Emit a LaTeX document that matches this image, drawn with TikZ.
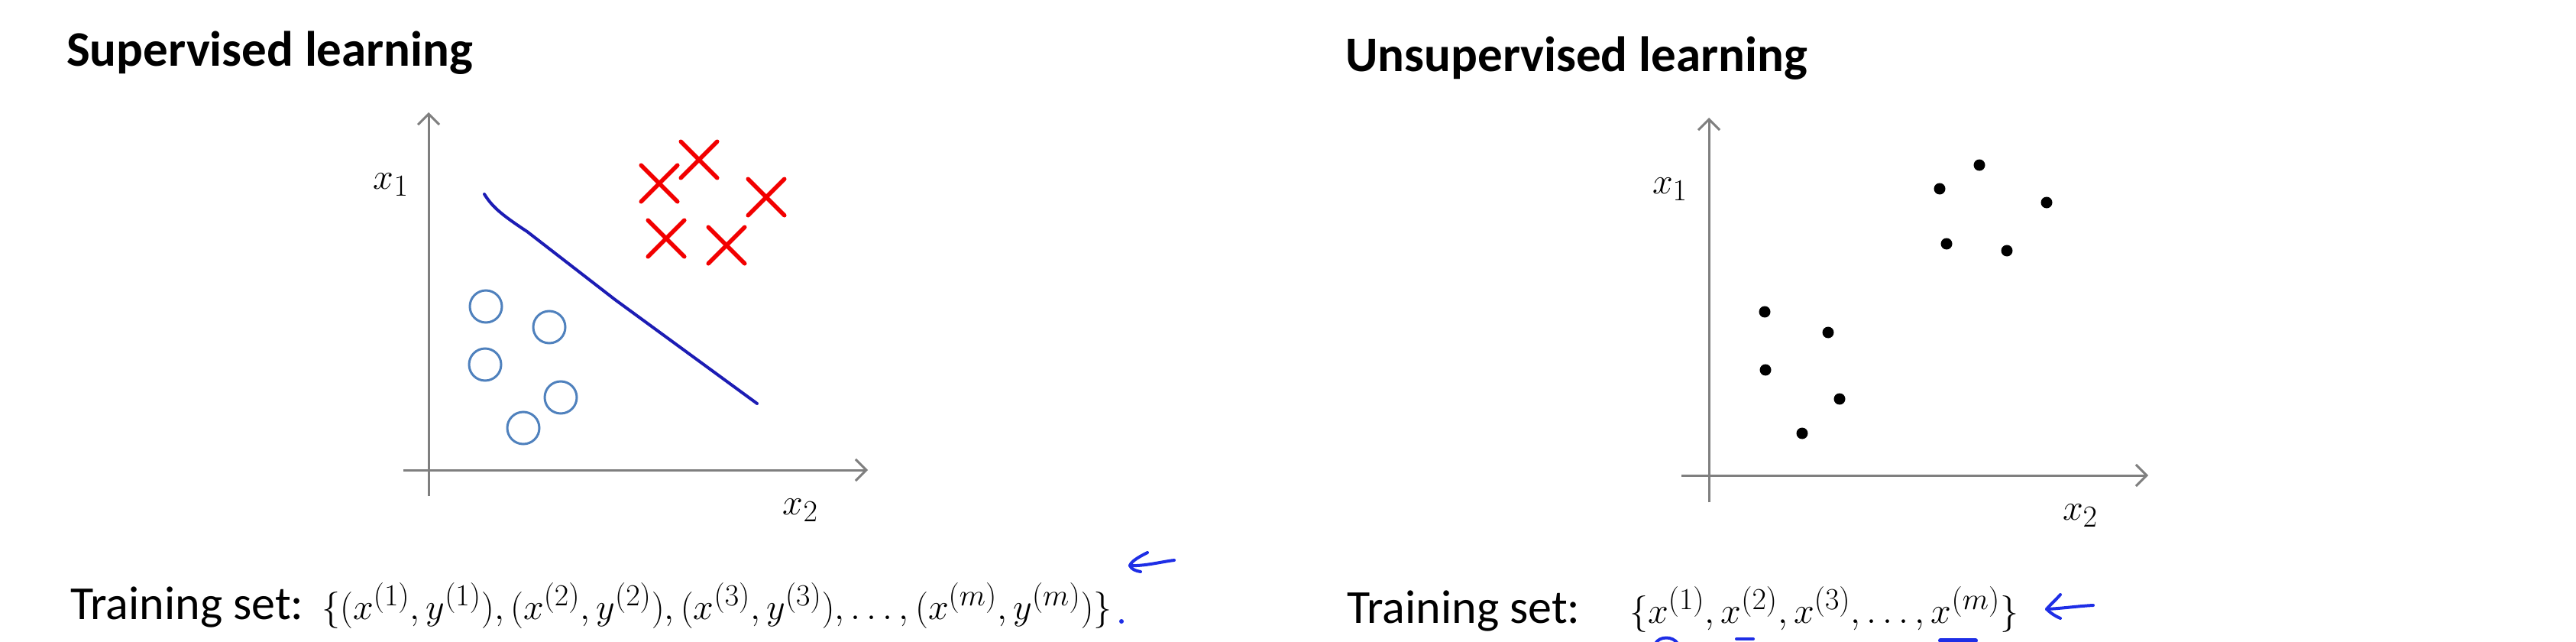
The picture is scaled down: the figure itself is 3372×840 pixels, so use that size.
\documentclass[tikz,border=0pt]{standalone}
\usepackage{fontspec}
\newfontfamily\calib{Carlito}
\usetikzlibrary{arrows.meta,shapes.misc}
\definecolor{axisgray}{HTML}{7F7F7F}
\definecolor{circblue}{HTML}{4F81BD}
\definecolor{lineblue}{HTML}{1C1CB4}
\definecolor{penblue}{HTML}{1E2EE6}
\definecolor{xred}{HTML}{F20000}
\newcommand{\bigmath}[1]{\scalebox{1.93}{\fontsize{24.88}{30}\selectfont$#1$}}
\tikzset{
  axisline/.style={draw=axisgray, line width=3pt, -{Straight Barb[length=14pt,width=28pt]}},
  xmark/.style={cross out, draw=xred, line width=5.5pt, line cap=round, minimum size=42pt, inner sep=0pt},
  omark/.style={circle, draw=circblue, line width=3pt, minimum size=42pt, inner sep=0pt},
  dotmark/.style={circle, fill=black, minimum size=15pt, inner sep=0pt},
  titletext/.style={anchor=base west, inner sep=0pt, font=\calib\bfseries\fontsize{65}{78}\selectfont},
  tstext/.style={anchor=base west, inner sep=0pt, font=\calib\fontsize{62}{74}\selectfont},
  mathtext/.style={inner sep=0pt},
  pen/.style={draw=penblue, line width=4pt, line cap=round, line join=round},
}
\begin{document}
\begin{tikzpicture}[x=1pt,y=-1pt]
\useasboundingbox[fill=white] (0,0) rectangle (3372,840);

% ---------- Supervised ----------
\node[titletext] (t1) at (87,87) {Supervised learning};
\coordinate (v1b) at (561,649);
\coordinate (v1t) at (561,147);
\coordinate (h1l) at (528,615);
\coordinate (h1r) at (1136,615);
\draw[axisline] (v1b) -- (v1t);
\draw[axisline] (h1l) -- (h1r);
\node[mathtext, anchor=base] (x1a) at (512,247) {\bigmath{x_1}};
\node[mathtext, anchor=base] (x2a) at (1048,673) {\bigmath{x_2}};

\coordinate (bl0) at (634,254);
\coordinate (bl1) at (690,303);
\coordinate (bl2) at (805,392);
\coordinate (bl3) at (991,528);
\draw[lineblue, line width=4pt, line cap=round, line join=round]
  (bl0) .. controls (644,270) and (655,280) .. (bl1) -- (bl2) -- (bl3);

\node[xmark] (r1) at (863,240) {};
\node[xmark] (r2) at (915,209) {};
\node[xmark] (r3) at (1003,258) {};
\node[xmark] (r4) at (872,312) {};
\node[xmark] (r5) at (951,321) {};

\node[omark] (o1) at (636,401) {};
\node[omark] (o2) at (719,428) {};
\node[omark] (o3) at (635,477) {};
\node[omark] (o4) at (734,520) {};
\node[omark] (o5) at (685,560) {};

\node[tstext] (ts1) at (92,810) {Training set:};
\node[mathtext, anchor=base west] (set1) at (421,810)
  {\bigmath{\{(x^{(1)},y^{(1)}),(x^{(2)},y^{(2)}),(x^{(3)},y^{(3)}),\ldots,(x^{(m)},y^{(m)})\}}};
\node[circle, fill=penblue, minimum size=6pt, inner sep=0pt] (pd1) at (1468,813) {};
\coordinate (a1u) at (1502,723);
\coordinate (a1t) at (1479,740);
\coordinate (a1d) at (1493,748);
\coordinate (a1e) at (1537,733);
\draw[pen] (a1u) .. controls (1492,728) and (1481,734) .. (a1t)
  .. controls (1481,745) and (1487,747) .. (a1d);
\draw[pen] (a1t) .. controls (1498,741) and (1520,735) .. (a1e);

% ---------- Unsupervised ----------
\node[titletext] (t2) at (1761,94) {Unsupervised learning};
\coordinate (v2b) at (2237,657);
\coordinate (v2t) at (2237,154);
\coordinate (h2l) at (2201,622);
\coordinate (h2r) at (2812,622);
\draw[axisline] (v2b) -- (v2t);
\draw[axisline] (h2l) -- (h2r);
\node[mathtext, anchor=base] (x1b) at (2186,253) {\bigmath{x_1}};
\node[mathtext, anchor=base] (x2b) at (2723,680) {\bigmath{x_2}};

\node[dotmark] (d1) at (2539,247) {};
\node[dotmark] (d2) at (2591,216) {};
\node[dotmark] (d3) at (2679,265) {};
\node[dotmark] (d4) at (2548,319) {};
\node[dotmark] (d5) at (2627,328) {};
\node[dotmark] (d6) at (2310,408) {};
\node[dotmark] (d7) at (2393,435) {};
\node[dotmark] (d8) at (2311,484) {};
\node[dotmark] (d9) at (2408,522) {};
\node[dotmark] (d10) at (2359,567) {};

\node[tstext] (ts2) at (1763,815) {Training set:};
\node[mathtext, anchor=base west] (set2) at (2133,815)
  {\bigmath{\{x^{(1)},x^{(2)},x^{(3)},\ldots,x^{(m)}\}}};
\coordinate (a2u) at (2697,778);
\coordinate (a2t) at (2679,797);
\coordinate (a2d) at (2697,809);
\coordinate (a2e) at (2740,792);
\draw[pen] (a2u) .. controls (2690,786) and (2682,793) .. (a2t)
  .. controls (2684,802) and (2690,806) .. (a2d);
\draw[pen] (a2t) .. controls (2700,796) and (2720,793) .. (a2e);
% underline marks at the bottom edge
\coordinate (m1a) at (2167,842);
\coordinate (m1b) at (2196,842);
\draw[pen] (m1a) .. controls (2172,832) and (2190,832) .. (m1b);
\coordinate (m2a) at (2273,836);
\coordinate (m2b) at (2295,836);
\draw[pen] (m2a) -- (m2b);
\coordinate (m3a) at (2540,838);
\coordinate (m3b) at (2586,838);
\draw[pen, line width=6pt] (m3a) -- (m3b);
\end{tikzpicture}
\end{document}
